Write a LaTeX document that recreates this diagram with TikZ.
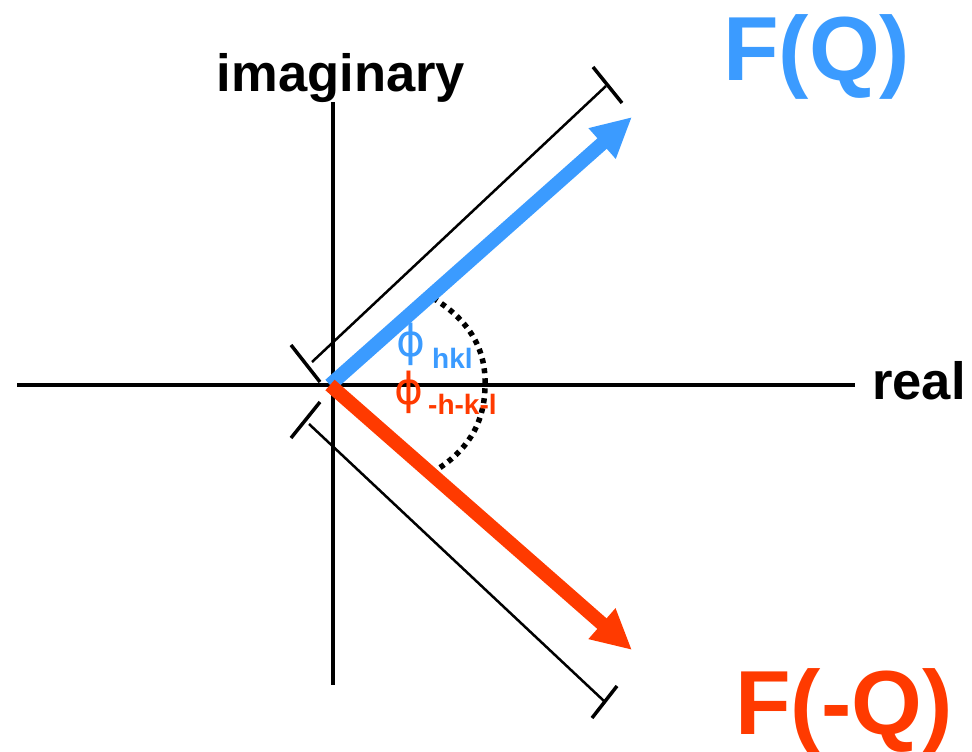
\documentclass[tikz,border=0pt]{standalone}
\usepackage{fontspec}
\setmainfont{Liberation Sans}
\newfontfamily\phifont{DejaVu Sans}
\usetikzlibrary{arrows.meta}
\definecolor{fblue}{RGB}{59,155,255}
\definecolor{fred}{RGB}{255,58,0}
\begin{document}
\begin{tikzpicture}[x=1pt,y=-1pt,
  axis/.style={line width=4pt},
  dimline/.style={line width=2.5pt},
  tickmark/.style={line width=3.5pt},
  vec/.style={line width=14pt,-{Triangle[length=40pt,width=38pt]}},
  arcdots/.style={line width=5.5pt,dash pattern=on 5pt off 5pt},
  axlabel/.style={inner sep=0pt,font=\bfseries\fontsize{52.5}{52.5}\selectfont},
  biglabel/.style={inner sep=0pt,font=\bfseries\fontsize{91}{91}\selectfont},
  philabel/.style={inner sep=0pt,font=\phifont\fontsize{44}{44}\selectfont},
  sublabel/.style={inner sep=0pt,font=\bfseries\fontsize{28}{28}\selectfont}]
\useasboundingbox (0,0) rectangle (972,752);
% coordinates
\coordinate (O) at (330,385);
\coordinate (xL) at (17,385);
\coordinate (xR) at (855,385);
\coordinate (yT) at (333,102);
\coordinate (yB) at (333,685);
\coordinate (Bt) at (632,117);
\coordinate (Rt) at (632,650);
\coordinate (U1) at (312,362);
\coordinate (U2) at (606,86);
\coordinate (L1) at (309,424);
\coordinate (L2) at (604,701);
\coordinate (Ua) at (291,345);
\coordinate (Ub) at (320,382);
\coordinate (Uc) at (593,67);
\coordinate (Ud) at (622,103);
\coordinate (La) at (320,402);
\coordinate (Lb) at (291,438);
\coordinate (Lc) at (617,686);
\coordinate (Ld) at (592,718);
\coordinate (A1) at (433,298);
\coordinate (A2) at (485,385);
\coordinate (A3) at (433,472);
% axes
\draw[axis] (xL) -- (xR);
\draw[axis] (yT) -- (yB);
% dimension lines
\draw[dimline] (U1) -- (U2);
\draw[dimline] (L1) -- (L2);
\draw[tickmark] (Ua) -- (Ub);
\draw[tickmark] (Uc) -- (Ud);
\draw[tickmark] (La) -- (Lb);
\draw[tickmark] (Lc) -- (Ld);
% dotted arc
\draw[arcdots] (A1) .. controls (472,322) and (486,352) .. (A2) .. controls (485,420) and (470,450) .. (A3);
% vectors
\draw[vec,fblue] (O) -- (Bt);
\draw[vec,fred] (O) -- (Rt);
% labels
\node[axlabel,anchor=base] (imag) at (341,92) {imaginary};
\node[axlabel,anchor=base west] (real) at (872,399) {real};
\node[biglabel,anchor=base west,text=fblue] (FQ) at (723,81) {F(Q)};
\node[biglabel,anchor=base west,text=fred] (FmQ) at (735,734) {F(-Q)};
\node[philabel,anchor=base,text=fblue] (phib) at (411,356) {ϕ};
\node[sublabel,anchor=base west,text=fblue] (hkl) at (432,368) {hkl};
\node[philabel,anchor=base,text=fred] (phir) at (409,404) {ϕ};
\node[sublabel,anchor=base west,text=fred] (mhkl) at (428,414) {-h-k-l};
\end{tikzpicture}
\end{document}
